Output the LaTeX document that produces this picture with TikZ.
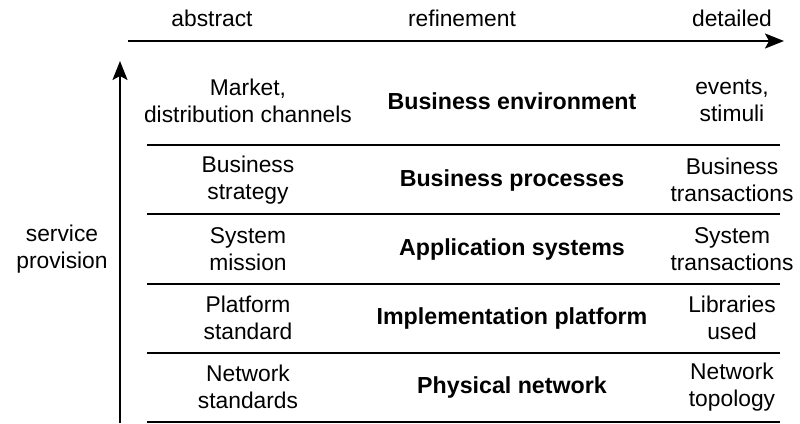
\documentclass[tikz,border=0pt]{standalone}
\usepackage{fontspec}
\setmainfont{Liberation Sans}
\usetikzlibrary{arrows.meta}
\begin{document}
\begin{tikzpicture}[x=1pt,y=-1pt,
  txt/.style={font=\fontsize{22.8}{26.8}\selectfont, align=center, inner sep=0pt},
  bold/.style={txt, font=\fontsize{23.2}{26.8}\selectfont\bfseries},
  rule/.style={line width=2pt},
  axis/.style={line width=2pt, -{Stealth[length=19pt,width=15pt,inset=4pt]}}]
\useasboundingbox (0,0) rectangle (800,423);
% axis labels
\node[txt] (abs) at (212,18) {abstract};
\node[txt] (ref) at (462,18) {refinement};
\node[txt] (det) at (732,18) {detailed};
\coordinate (hs) at (128,41);
\coordinate (he) at (784,41);
\draw[axis] (hs) -- (he);
\coordinate (vs) at (120,423);
\coordinate (ve) at (120,61);
\draw[axis] (vs) -- (ve);
\node[txt] (sp) at (62,249) {service\\provision};
% separators
\foreach \y/\n in {145/a,214/b,284/c,353/d,422/e}{
  \coordinate (L\n) at (147,\y);
  \coordinate (R\n) at (780,\y);
  \draw[rule] (L\n) -- (R\n);
}
% rows
\node[txt] (l1) at (248,101) {Market,\\distribution channels};
\node[bold] (m1) at (512,101) {Business environment};
\node[txt] (r1) at (732,101) {events,\\stimuli};
\node[txt] (l2) at (248,180) {Business\\strategy};
\node[bold] (m2) at (512,180) {Business processes};
\node[txt] (r2) at (732,180) {Business\\transactions};
\node[txt] (l3) at (248,249) {System\\mission};
\node[bold] (m3) at (512,249) {Application systems};
\node[txt] (r3) at (732,249) {System\\transactions};
\node[txt] (l4) at (248,318) {Platform\\standard};
\node[bold] (m4) at (512,318) {Implementation platform};
\node[txt] (r4) at (732,318) {Libraries\\used};
\node[txt] (l5) at (248,387) {Network\\standards};
\node[bold] (m5) at (512,387) {Physical network};
\node[txt] (r5) at (732,387) {Network\\topology};
\end{tikzpicture}
\end{document}
